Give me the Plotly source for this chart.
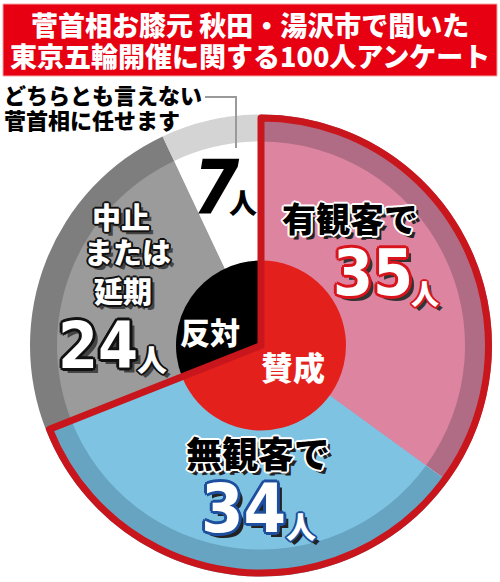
import plotly.graph_objects as go

# ---- data ----
categories = ["有観客で", "無観客で", "中止または延期", "どちらとも言えない 菅首相に任せます"]
counts = [35, 34, 24, 7]
stance_labels = ["賛成", "反対"]
stance_counts = [counts[0] + counts[1], counts[2] + counts[3]]
title_lines = ["菅首相お膝元 秋田・湯沢市で聞いた", "東京五輪開催に関する100人アンケート"]
unit = "人"

# ---- styles ----
W, H = 500, 582
main_colors = ["#dc84a0", "#7fc3e3", "#9b9b9b", "#ffffff"]
rim_colors = ["#b06c84", "#67a4c2", "#7e7e7e", "#d4d4d4"]
stance_colors = ["#e4201c", "#000000"]
outline_red = "#c8161c"
JP = "Noto Sans CJK JP"
NUM = "Liberation Sans Narrow, DejaVu Sans Condensed, Arial Narrow, Roboto"

cx, cy, R = 261, 345.5, 231
RIM = 27
R_IN = 85


def dom(r):
    return dict(x=[(cx - r) / W, (cx + r) / W],
                y=[(H - cy - r) / H, (H - cy + r) / H])


def pie(values, colors, r, **kw):
    return go.Pie(values=values, marker=dict(colors=colors, line=kw.pop("line", dict(width=0))),
                  domain=dom(r), sort=False, direction="clockwise", rotation=0,
                  textinfo="none", hoverinfo="skip", showlegend=False, **kw)


fig = go.Figure()
fig.add_trace(pie(counts, rim_colors, R, labels=categories))
fig.add_trace(pie(counts, main_colors, R - RIM, labels=categories))
fig.add_trace(pie(stance_counts, stance_colors, R_IN, labels=stance_labels))
fig.add_trace(pie(stance_counts, ["rgba(0,0,0,0)", "rgba(0,0,0,0)"], R - 3.5,
                  labels=stance_labels,
                  line=dict(color=[outline_red, "rgba(0,0,0,0)"], width=[7, 0])))


def outline(color, w, shadow=None):
    pts = []
    for dx, dy in [(w, 0), (-w, 0), (0, w), (0, -w), (w * .7, w * .7), (-w * .7, -w * .7),
                   (w * .7, -w * .7), (-w * .7, w * .7)]:
        pts.append(f"{dx:.1f}px {dy:.1f}px 0 {color}")
    if shadow:
        pts.append(f"{w + 2}px {w + 2}px 0 {shadow}")
    return ", ".join(pts)


def ann(text, x, y, size, color="#000", family=JP, weight=900, shadow=None,
        xanchor="center", style="normal"):
    font = dict(family=family, size=size, color=color, weight=weight, style=style)
    if shadow:
        font["shadow"] = shadow
    fig.add_annotation(text=text, x=x / W, y=1 - y / H, xref="paper", yref="paper",
                       showarrow=False, xanchor=xanchor, yanchor="middle", font=font)


# title box
fig.add_shape(type="rect", xref="paper", yref="paper", x0=3 / W, x1=497 / W,
              y0=1 - 76 / H, y1=1 - 4 / H, fillcolor="#e60012",
              line=dict(color="#f3a3a3", width=1))
ann(title_lines[0], 250, 25, 27, "#ffffff")
ann(title_lines[1], 250, 56, 27, "#ffffff")

# leader line for small slice label
fig.add_shape(type="path", xref="paper", yref="paper",
              path=f"M {205 / W} {1 - 97 / H} L {236 / W} {1 - 97 / H} L {236 / W} {1 - 148 / H}",
              line=dict(color="#9a9a9a", width=2))
lbl4 = categories[3].split(" ")
ann(lbl4[0], 2, 94, 22, xanchor="left")
ann(lbl4[1], 2, 119, 22, xanchor="left")

# 7人
ann(str(counts[3]), 216, 187, 74, family=NUM, style="italic")
ann(unit, 243, 202, 28)

# 有観客で 35人
sh_dark = outline("#ffffff", 2, "#222222")
ann(categories[0], 350, 217, 34, shadow=sh_dark)
sh_red = outline("#d8141c", 3, "#333333")
ann(str(counts[0]), 373, 273, 64, "#ffffff", family=NUM, shadow=sh_red)
ann(unit, 425, 293, 28, "#ffffff", shadow=outline("#d8141c", 2, "#333333"))

# 無観客で 34人
ann(categories[1], 258, 452, 36, shadow=sh_dark)
sh_blue = outline("#1d4f9e", 3, "#222222")
ann(str(counts[1]), 243, 508, 68, "#ffffff", family=NUM, shadow=sh_blue)
ann(unit, 301, 525, 30, "#ffffff", shadow=outline("#1d4f9e", 2, "#222222"))

# 中止または延期 24人
sh_blk = outline("#111111", 2, "#444444")
ann("中止", 121, 216, 29, "#ffffff", shadow=sh_blk)
ann("または", 127, 251, 29, "#ffffff", shadow=sh_blk)
ann("延期", 123, 290, 29, "#ffffff", shadow=sh_blk)
sh_blk3 = outline("#111111", 3, "#444444")
ann(str(counts[2]), 98, 346, 64, "#ffffff", family=NUM, shadow=sh_blk3)
ann(unit, 152, 358, 30, "#ffffff", shadow=sh_blk)

# 反対 / 賛成
ann(stance_labels[1], 210, 331, 30, "#ffffff")
ann(stance_labels[0], 293, 366, 32, "#ffffff")

fig.update_layout(width=W, height=H, margin=dict(l=0, r=0, t=0, b=0),
                  paper_bgcolor="#ffffff", plot_bgcolor="#ffffff")
fig.write_html("out.html")
